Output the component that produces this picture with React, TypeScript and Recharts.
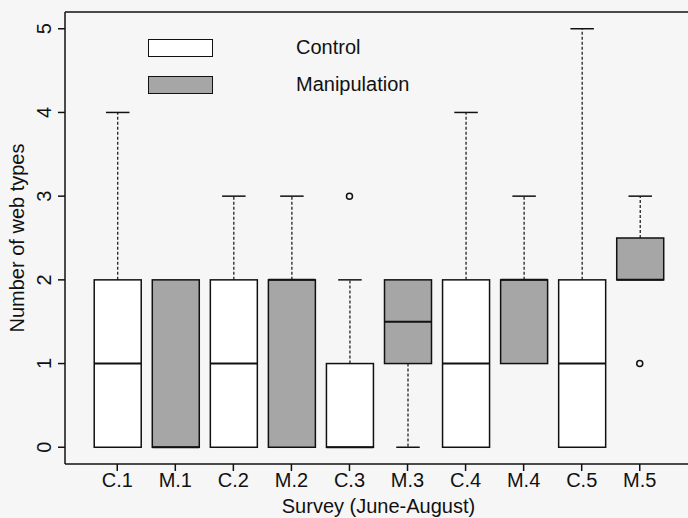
import React from "react";
import { Bar, ComposedChart, Legend, ReferenceLine, Scatter, XAxis, YAxis } from "recharts";

// box plot summary per survey
const surveys = ["C.1", "M.1", "C.2", "M.2", "C.3", "M.3", "C.4", "M.4", "C.5", "M.5"];
const groups = ["Control", "Manipulation", "Control", "Manipulation", "Control", "Manipulation", "Control", "Manipulation", "Control", "Manipulation"];
const lowWhisker = [0, 0, 0, 0, 0, 0, 0, 1, 0, 2];
const lowerQuartile = [0, 0, 0, 0, 0, 1, 0, 1, 0, 2];
const medians = [1, 0, 1, 2, 0, 1.5, 1, 2, 1, 2];
const upperQuartile = [2, 2, 2, 2, 1, 2, 2, 2, 2, 2.5];
const highWhisker = [4, 2, 3, 3, 2, 2, 4, 3, 5, 3];
const outlierSurvey = [5, 10];
const outlierValue = [3, 1];
const yTicks = [0, 1, 2, 3, 4, 5];

const FONT = "'Liberation Sans', Arial, Helvetica, sans-serif";
const INK = "#111";
const GREY = "#a6a6a6";

const rows = surveys.map((name, i) => ({
  x: i + 1,
  name,
  group: groups[i],
  low: lowWhisker[i],
  q1: lowerQuartile[i],
  med: medians[i],
  q3: upperQuartile[i],
  high: highWhisker[i],
  range: [lowWhisker[i], highWhisker[i]],
}));

const outliers = outlierSurvey.map((x, i) => ({ x, y: outlierValue[i] }));

function BoxShape(props: any) {
  const { x, y, width, height, payload } = props;
  const top = Math.min(y, y + height);
  const h = Math.abs(height);
  const unit = h / (payload.high - payload.low);
  const py = (v: number) => top + (payload.high - v) * unit;
  const cx = x + width / 2;
  const cap = width / 4;
  const fill = payload.group === "Control" ? "#ffffff" : GREY;
  return (
    <g>
      {payload.high > payload.q3 && (
        <g>
          <line x1={cx} x2={cx} y1={py(payload.q3)} y2={py(payload.high)} stroke={INK} strokeWidth={1.2} strokeDasharray="3 2" />
          <line x1={cx - cap} x2={cx + cap} y1={py(payload.high)} y2={py(payload.high)} stroke={INK} strokeWidth={1.5} />
        </g>
      )}
      {payload.low < payload.q1 && (
        <g>
          <line x1={cx} x2={cx} y1={py(payload.q1)} y2={py(payload.low)} stroke={INK} strokeWidth={1.2} strokeDasharray="3 2" />
          <line x1={cx - cap} x2={cx + cap} y1={py(payload.low)} y2={py(payload.low)} stroke={INK} strokeWidth={1.5} />
        </g>
      )}
      <rect x={x} y={py(payload.q3)} width={width} height={py(payload.q1) - py(payload.q3)} fill={fill} stroke={INK} strokeWidth={1.5} />
      <line x1={x} x2={x + width} y1={py(payload.med)} y2={py(payload.med)} stroke={INK} strokeWidth={2} />
    </g>
  );
}

function YTick(props: any) {
  const { y, payload } = props;
  return (
    <text transform={`translate(51, ${y}) rotate(-90)`} textAnchor="middle" fontSize={20} fontFamily={FONT} fill={INK}>
      {payload.value}
    </text>
  );
}

function LegendBox() {
  const items = [
    { label: "Control", fill: "#ffffff" },
    { label: "Manipulation", fill: GREY },
  ];
  return (
    <div style={{ fontFamily: FONT, fontSize: 20, color: INK }}>
      {items.map((it, i) => (
        <div key={it.label} style={{ display: "flex", alignItems: "center", height: 19, marginTop: i === 0 ? 0 : 18 }}>
          <div style={{ width: 63, height: 16, background: it.fill, border: `1.5px solid ${INK}` }} />
          <span style={{ marginLeft: 83, lineHeight: "19px" }}>{it.label}</span>
        </div>
      ))}
    </div>
  );
}

export default function App() {
  return (
    <div style={{ position: "absolute", left: 0, top: 0, width: 688, height: 518, overflow: "hidden", background: "#f6f6f6" }}>
      <ComposedChart width={700} height={518} data={rows} margin={{ top: 12, right: 8, bottom: 0, left: 0 }}>
        <XAxis
          dataKey="x"
          type="number"
          domain={[0.1, 10.9]}
          allowDataOverflow
          ticks={rows.map((r) => r.x)}
          interval={0}
          tickFormatter={(v) => surveys[v - 1]}
          height={54}
          tickSize={7}
          tick={{ fontSize: 20, fontFamily: FONT, fill: INK }}
          stroke={INK}
          strokeWidth={1.5}
          label={{ value: "Survey (June-August)", position: "insideBottom", offset: 5, fontSize: 20, fontFamily: FONT, fill: INK }}
        />
        <YAxis
          type="number"
          domain={[-0.2, 5.2]}
          allowDataOverflow
          ticks={yTicks}
          interval={0}
          width={65}
          tickSize={7}
          tick={<YTick />}
          stroke={INK}
          strokeWidth={1.5}
          label={{
            content: (p: any) => (
              <text
                transform={`translate(${p.viewBox.x + 24}, ${p.viewBox.y + p.viewBox.height / 2}) rotate(-90)`}
                textAnchor="middle"
                fontSize={20}
                fontFamily={FONT}
                fill={INK}
              >
                Number of web types
              </text>
            ),
          }}
        />
        <ReferenceLine y={5.2} stroke={INK} strokeWidth={1.5} ifOverflow="visible" />
        <Bar dataKey="range" barSize={47} shape={<BoxShape />} isAnimationActive={false} />
        <Scatter
          data={outliers}
          dataKey="y"
          isAnimationActive={false}
          shape={(p: any) => <circle cx={p.cx} cy={p.cy} r={3} fill="none" stroke={INK} strokeWidth={1.5} />}
        />
        <Legend
          layout="vertical"
          align="center"
          verticalAlign="middle"
          content={() => <LegendBox />}
          wrapperStyle={{ left: 148, top: 38, width: 300, height: 80 }}
        />
      </ComposedChart>
    </div>
  );
}
